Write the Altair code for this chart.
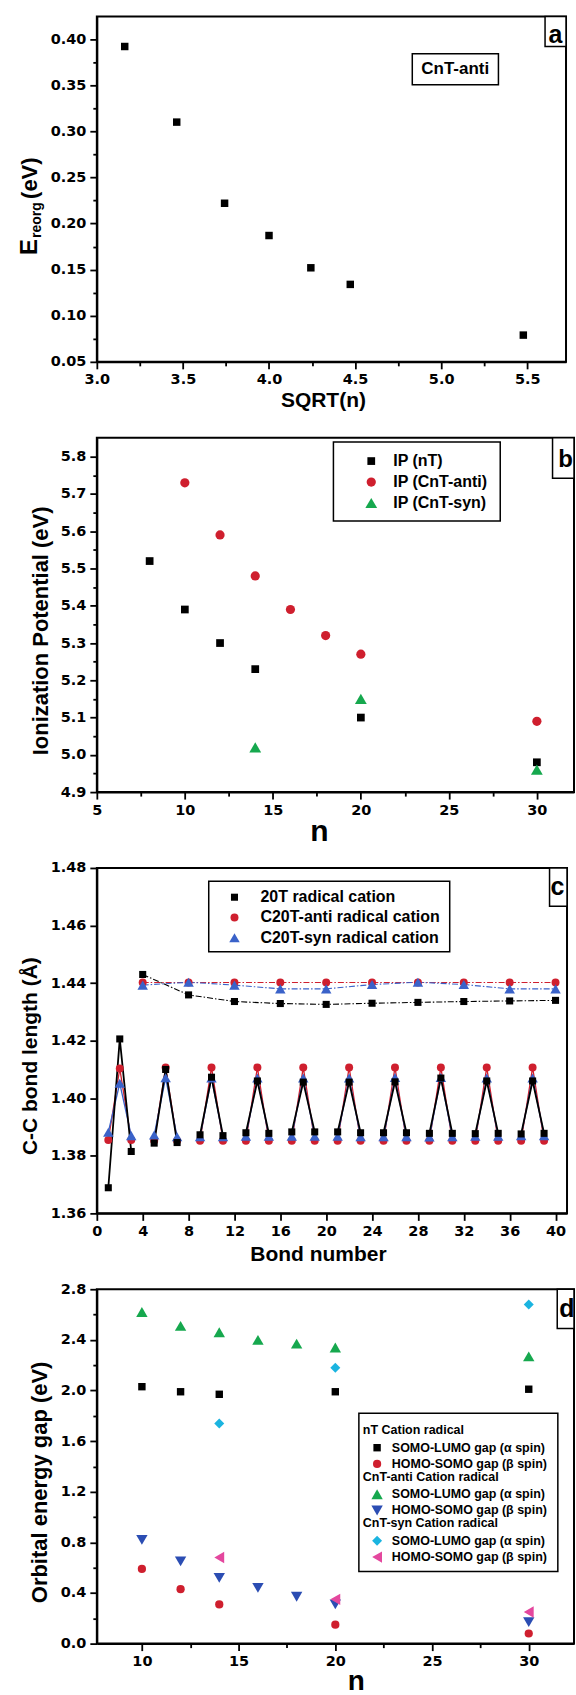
import altair as alt
import pandas as pd

# ---------------- data ----------------
# panel a
a_sqrt_n = [3.162, 3.464, 3.742, 4.000, 4.243, 4.472, 5.477]
a_ereorg = [0.392, 0.310, 0.222, 0.187, 0.152, 0.134, 0.079]

# panel b
b_nT_n = [8, 10, 12, 14, 20, 30]
b_nT_ip = [5.52, 5.39, 5.30, 5.23, 5.10, 4.98]
b_anti_n = [10, 12, 14, 16, 18, 20, 30]
b_anti_ip = [5.73, 5.59, 5.48, 5.39, 5.32, 5.27, 5.09]
b_syn_n = [14, 20, 30]
b_syn_ip = [5.02, 5.15, 4.96]
b_labels = ["IP (nT)", "IP (CnT-anti)", "IP (CnT-syn)"]

# panel c
c_ring_bonds = [1, 2, 3, 5, 6, 7, 9, 10, 11, 13, 14, 15, 17, 18, 19, 21, 22, 23,
                25, 26, 27, 29, 30, 31, 33, 34, 35, 37, 38, 39]
c_inter_bonds = [4, 8, 12, 16, 20, 24, 28, 32, 36, 40]
c_20T_ring = [1.3689, 1.4206, 1.3815, 1.3844, 1.4100, 1.3846, 1.3873, 1.4073, 1.3870,
              1.3880, 1.4060, 1.3878, 1.3883, 1.4056, 1.3883, 1.3883, 1.4056, 1.3880,
              1.3880, 1.4057, 1.3880, 1.3878, 1.4070, 1.3878, 1.3877, 1.4060, 1.3878,
              1.3876, 1.4060, 1.3878]
c_20T_inter = [1.4430, 1.4359, 1.4336, 1.4329, 1.4326, 1.4330, 1.4333, 1.4336, 1.4338, 1.4340]
c_anti_ring = [1.3855, 1.4103, 1.3855, 1.3852, 1.4107, 1.3852, 1.3852, 1.4107, 1.3852,
               1.3852, 1.4107, 1.3852, 1.3852, 1.4107, 1.3852, 1.3852, 1.4107, 1.3852,
               1.3852, 1.4107, 1.3852, 1.3852, 1.4107, 1.3852, 1.3852, 1.4107, 1.3852,
               1.3852, 1.4107, 1.3852]
c_anti_inter = [1.4402, 1.4402, 1.4402, 1.4402, 1.4402, 1.4402, 1.4402, 1.4402, 1.4402, 1.4402]
c_syn_ring = [1.3882, 1.4052, 1.3870, 1.3872, 1.4071, 1.3866, 1.3866, 1.4070, 1.3866,
              1.3868, 1.4070, 1.3868, 1.3868, 1.4070, 1.3868, 1.3868, 1.4070, 1.3866,
              1.3866, 1.4072, 1.3866, 1.3865, 1.4072, 1.3866, 1.3868, 1.4070, 1.3868,
              1.3870, 1.4070, 1.3870]
c_syn_inter = [1.4393, 1.4403, 1.4393, 1.4380, 1.4380, 1.4395, 1.4403, 1.4395, 1.4380, 1.4380]
c_labels = ["20T radical cation", "C20T-anti radical cation", "C20T-syn radical cation"]

# panel d
d_nT_n = [10, 12, 14, 20, 30]
d_nT_alpha = [2.03, 1.99, 1.97, 1.99, 2.01]
d_nT_beta = [0.59, 0.43, 0.31, 0.15, 0.08]
d_anti_n = [10, 12, 14, 16, 18, 20, 30]
d_anti_alpha = [2.62, 2.51, 2.46, 2.40, 2.37, 2.34, 2.27]
d_anti_beta = [0.82, 0.65, 0.52, 0.44, 0.37, 0.31, 0.17]
d_syn_n = [14, 20, 30]
d_syn_alpha = [1.74, 2.18, 2.68]
d_syn_beta = [0.68, 0.35, 0.25]
d_alpha_label = "SOMO-LUMO gap (\u03b1 spin)"
d_beta_label = "HOMO-SOMO gap (\u03b2 spin)"
d_headers = ["nT Cation radical", "CnT-anti Cation radical", "CnT-syn Cation radical"]

# ---------------- style ----------------
RED = "#cf1f2e"
GREEN = "#16a84e"
BLUE_C = "#3a62c9"
BLUE_D = "#2b4db3"
CYAN = "#1bb4e0"
PINK = "#e4479e"
TFONT = "Liberation Sans"

WA, HA = 470, 346
WB, HB = 478, 355
WC, HC = 471, 346
WD, HD = 478, 355

one = pd.DataFrame({"k": [0]})


def ticks(start, stop, step):
    out, i = [], 0
    while True:
        v = round(start + i * step, 6)
        if v > stop + 1e-9:
            break
        out.append(v)
        i += 1
    return out


def mk_axis(values, major, fmt, **kw):
    test = f"abs(datum.value/{major} - round(datum.value/{major})) < 1e-6"
    return alt.Axis(values=values, format=fmt, labelExpr=f"{test} ? datum.label : ''",
                    tickSize={"condition": {"test": test, "value": 7}, "value": 4},
                    grid=False, labelOverlap=False, labelFlush=False, **kw)


def box(x1, x2, y1, y2, sw=1.5):
    return alt.Chart(one).mark_rect(fill="white", stroke="black", strokeWidth=sw).encode(
        x=alt.value(x1), x2=alt.value(x2), y=alt.value(y1), y2=alt.value(y2))


def label(txt, x, y, size, baseline="alphabetic", angle=0, font=TFONT):
    return alt.Chart(one).mark_text(text=txt, font=font, fontWeight="bold", fontSize=size,
                                    color="black", align="center", baseline=baseline,
                                    angle=angle).encode(x=alt.value(x), y=alt.value(y))


def xt(title, tx, ty, size):
    return dict(title=title, titleX=tx, titleY=ty, titleAlign="center",
                titleBaseline="alphabetic", titleFontSize=size)


def yt(title, tx, ty, size):
    return dict(title=title, titleX=tx, titleY=ty, titleAngle=270, titleAlign="center",
                titleBaseline="middle", titleFontSize=size)


# ---------------- panel a ----------------
dfa = pd.DataFrame({"x": a_sqrt_n, "y": a_ereorg})
pa = alt.Chart(dfa).mark_point(filled=True, shape="square", size=56, color="black", opacity=1).encode(
    x=alt.X("x:Q", scale=alt.Scale(domain=[3.0, 5.725], nice=False, zero=False),
            axis=mk_axis(ticks(3.0, 5.5, 0.25), 0.5, ".1f", **xt("SQRT(n)", 226.5, 45, 21))),
    y=alt.Y("y:Q", scale=alt.Scale(domain=[0.05, 0.4246], nice=False, zero=False),
            axis=mk_axis(ticks(0.05, 0.40, 0.025), 0.05, ".2f", title=None)),
)
panel_a = alt.layer(
    pa,
    box(449, WA, 0, 30), label("a", 459.5, 27, 25),
    box(316, 402.3, 37.4, 68.4), label("CnT-anti", 359, 53, 17, baseline="middle"),
    label("E", -66.6, 231, 24, baseline="middle", angle=270),
    label("reorg", -59.5, 204, 14, baseline="middle", angle=270),
    label("(eV)", -66.6, 162, 22, baseline="middle", angle=270),
).properties(width=WA, height=HA)

# ---------------- panel b ----------------
dfb = pd.concat([
    pd.DataFrame({"n": b_nT_n, "ip": b_nT_ip, "s": b_labels[0]}),
    pd.DataFrame({"n": b_anti_n, "ip": b_anti_ip, "s": b_labels[1]}),
    pd.DataFrame({"n": b_syn_n, "ip": b_syn_ip, "s": b_labels[2]}),
])
leg_b = alt.Legend(orient="none", legendX=266.9, legendY=15.4, title=None, padding=0,
                   labelFont=TFONT, labelFontWeight="bold", labelFontSize=16, labelColor="black",
                   symbolStrokeWidth=0, rowPadding=5, labelOffset=14.0, labelLimit=400)
pb = alt.Chart(dfb).mark_point(filled=True, opacity=1).encode(
    x=alt.X("n:Q", scale=alt.Scale(domain=[5, 32.11], nice=False, zero=False),
            axis=mk_axis(ticks(5, 30, 2.5), 5, "d", **xt("n", 222.5, 48, 30))),
    y=alt.Y("ip:Q", scale=alt.Scale(domain=[4.9, 5.851], nice=False, zero=False),
            axis=mk_axis(ticks(4.9, 5.8, 0.05), 0.1, ".1f",
                         **yt("Ionization Potential (eV)", -56, 193, 22))),
    color=alt.Color("s:N", scale=alt.Scale(domain=b_labels, range=["black", RED, GREEN]), legend=leg_b),
    shape=alt.Shape("s:N", scale=alt.Scale(domain=b_labels, range=["square", "circle", "triangle-up"]),
                    legend=leg_b),
    size=alt.Size("s:N", scale=alt.Scale(type="ordinal", domain=b_labels, range=[60, 85, 140]),
                  legend=leg_b),
)
panel_b = alt.layer(
    box(237, 404.1, 4.4, 83.4),
    pb,
    box(456.5, WB, 0, 40.7), label("b", 469.5, 29, 24),
).properties(width=WB, height=HB)

# ---------------- panel c ----------------
ring_id = [(b - 1) // 4 for b in c_ring_bonds]
series_c = [
    (c_labels[1], c_anti_ring, c_anti_inter, RED, 1.3),
    (c_labels[2], c_syn_ring, c_syn_inter, BLUE_C, 1.3),
    (c_labels[0], c_20T_ring, c_20T_inter, "black", 1.8),
]
xsc = alt.Scale(domain=[0, 41], nice=False, zero=False)
ysc = alt.Scale(domain=[1.36, 1.48], nice=False, zero=False)
xax_c = mk_axis(ticks(0, 40, 2), 4, "d", **xt("Bond number", 221.5, 47, 21))
yax_c = mk_axis(ticks(1.36, 1.48, 0.01), 0.02, ".2f", **yt("C-C bond length (\u00c5)", -66, 188, 21))

layers_c = [box(112.1, 353.5, 13.3, 84)]
pts = []
for lab, ring, inter, col, lw in series_c:
    dring = pd.DataFrame({"bond": c_ring_bonds, "len": ring, "ring": ring_id})
    dint = pd.DataFrame({"bond": c_inter_bonds, "len": inter})
    layers_c.append(alt.Chart(dring).mark_line(color=col, strokeWidth=lw).encode(
        x=alt.X("bond:Q", scale=xsc, axis=xax_c), y=alt.Y("len:Q", scale=ysc, axis=yax_c),
        detail="ring:N"))
    layers_c.append(alt.Chart(dint).mark_line(color=col, strokeWidth=1.1, strokeDash=[6, 2, 1.5, 2]).encode(
        x=alt.X("bond:Q", scale=xsc), y=alt.Y("len:Q", scale=ysc)))
    pts.append(pd.DataFrame({"bond": c_ring_bonds + c_inter_bonds, "len": ring + inter, "s": lab}))
dfc = pd.concat(pts)
leg_c = alt.Legend(orient="none", legendX=129.9, legendY=21.3, title=None, padding=0,
                   labelFont=TFONT, labelFontWeight="bold", labelFontSize=16, labelColor="black",
                   symbolStrokeWidth=0, rowPadding=4.3, labelOffset=18.0, labelLimit=400)
layers_c.append(alt.Chart(dfc).mark_point(filled=True, opacity=1).encode(
    x=alt.X("bond:Q", scale=xsc), y=alt.Y("len:Q", scale=ysc),
    color=alt.Color("s:N", scale=alt.Scale(domain=c_labels, range=["black", RED, BLUE_C]), legend=leg_c),
    shape=alt.Shape("s:N", scale=alt.Scale(domain=c_labels, range=["square", "circle", "triangle-up"]),
                    legend=leg_c),
    size=alt.Size("s:N", scale=alt.Scale(type="ordinal", domain=c_labels, range=[50, 64, 110]),
                  legend=leg_c),
))
layers_c += [box(453.5, WC, 0, 38.3), label("c", 461.5, 26.6, 25)]
panel_c = alt.layer(*layers_c).properties(width=WC, height=HC)

# ---------------- panel d ----------------
xsd = alt.Scale(domain=[7.67, 32.34], nice=False, zero=False)
ysd = alt.Scale(domain=[0, 2.8], nice=False, zero=False)
xax_d = mk_axis(ticks(10, 30, 2.5), 5, "d", **xt("n", 259.5, 46, 28))
yax_d = mk_axis(ticks(0, 2.8, 0.2), 0.4, ".1f", **yt("Orbital energy gap (eV)", -57.8, 193, 22))

groups_d = [
    (d_headers[0], d_nT_n, d_nT_alpha, d_nT_beta, ["black", RED], ["square", "circle"], [55, 68], 135.0),
    (d_headers[1], d_anti_n, d_anti_alpha, d_anti_beta, [GREEN, BLUE_D], ["triangle-up", "triangle-down"],
     [130, 130], 181.6),
    (d_headers[2], d_syn_n, d_syn_alpha, d_syn_beta, [CYAN, PINK], ["diamond", "triangle-left"], [100, 130], 228.3),
]
layers_d = [box(262.5, 461.8, 124.3, 282.7)]
for head, ns, al, be, cols, shps, szs, ly in groups_d:
    dd = pd.concat([
        pd.DataFrame({"n": ns, "gap": al, "s": d_alpha_label}),
        pd.DataFrame({"n": ns, "gap": be, "s": d_beta_label}),
    ])
    lg = alt.Legend(orient="none", legendX=266.5, legendY=ly, title=head, padding=0,
                    titleFont=TFONT, titleFontWeight="bold", titleFontSize=12.5, titleColor="black",
                    titlePadding=5, titleAnchor="start",
                    labelFont=TFONT, labelFontWeight="bold", labelFontSize=12.5, labelColor="black",
                    symbolStrokeWidth=0, rowPadding=3.3, labelLimit=400,
                    symbolOffset=8.0, labelOffset=8.5)
    dom = [d_alpha_label, d_beta_label]
    layers_d.append(alt.Chart(dd).mark_point(filled=True, opacity=1).encode(
        x=alt.X("n:Q", scale=xsd, axis=xax_d),
        y=alt.Y("gap:Q", scale=ysd, axis=yax_d),
        color=alt.Color("s:N", scale=alt.Scale(domain=dom, range=cols), legend=lg),
        shape=alt.Shape("s:N", scale=alt.Scale(domain=dom, range=shps), legend=lg),
        size=alt.Size("s:N", scale=alt.Scale(type="ordinal", domain=dom, range=szs), legend=lg),
    ))
layers_d += [box(461.2, WD, 0, 39.3), label("d", 470.8, 27.7, 25)]
panel_d = alt.layer(*layers_d).resolve_scale(
    color="independent", shape="independent", size="independent").properties(width=WD, height=HD)

# ---------------- assemble ----------------
chart = alt.vconcat(panel_a, panel_b, panel_c, panel_d, spacing=76, bounds="flush").resolve_scale(
    color="independent", shape="independent", size="independent"
).properties(
    padding={"left": 17, "top": 13, "right": 0, "bottom": -2}
).configure_view(
    stroke="black", strokeWidth=2
).configure_axis(
    domainColor="black", domainWidth=2, tickColor="black", tickWidth=1.8,
    labelColor="black", labelFont="DejaVu Sans", labelFontSize=14.5, labelFontWeight="bold",
    labelPadding=4, titleColor="black", titleFont=TFONT, titleFontWeight="bold", grid=False,
)

chart.save("out.html", embed_options={"renderer": "svg", "actions": False})
